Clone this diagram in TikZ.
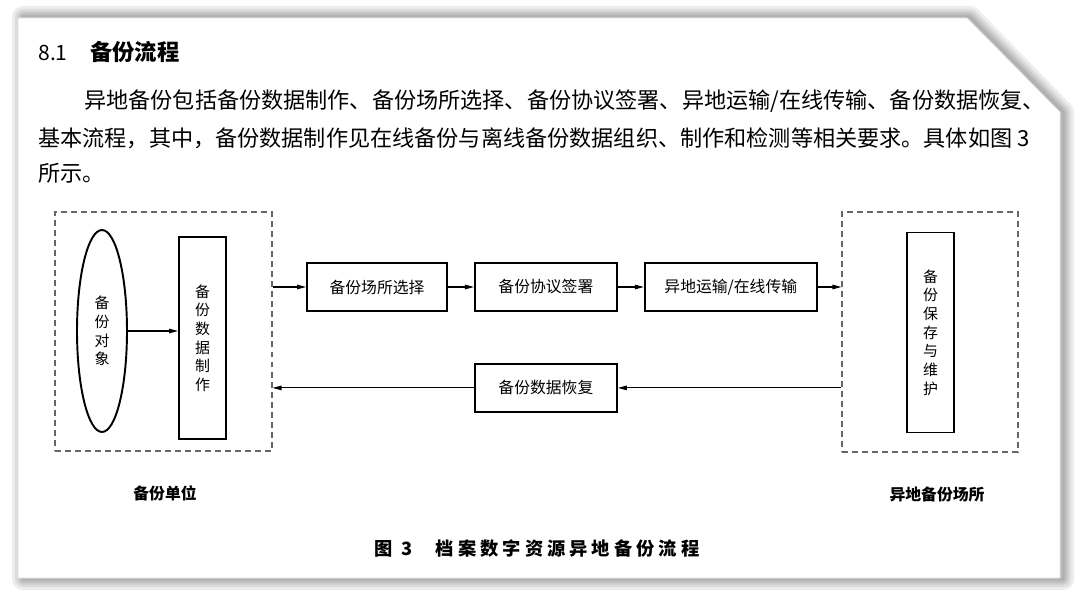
\documentclass[tikz,border=0pt]{standalone}
\usepackage{fontspec}
\setmainfont{Noto Sans CJK SC}
\newfontfamily\capfont[LetterSpace=22]{Noto Sans CJK SC}
\usepackage{tikz}
\usetikzlibrary{arrows.meta,positioning,calc,shapes.geometric}

\begin{document}
\begin{tikzpicture}[x=0.02cm, y=-0.02cm, font=\fontsize{9}{11}\selectfont, node distance=0.52cm,
  bx/.style={draw, line width=1.1pt, minimum width=2.8cm, minimum height=0.96cm, inner sep=2pt},
  vbx/.style={bx, minimum width=0.94cm, minimum height=4.04cm, align=center, font=\fontsize{8.5}{10.6}\selectfont},
  grp/.style={draw=black!60, dash pattern=on 3.4pt off 2.3pt, line width=0.6pt, inner sep=0},
  lbl/.style={font=\fontsize{9}{11}\selectfont\bfseries},
  para/.style={anchor=base west, inner sep=0, font=\fontsize{12.6}{15}\selectfont},
  ar/.style={-{Triangle[length=1.8mm, width=0.9mm]}, line width=0.6pt}]
  \useasboundingbox (0,0) rectangle (1080,598);
  % page with its shadow
  \foreach \w in {22,16,11,7,3} \draw[black, opacity=0.07, line width=\w*0.02cm, line join=round]
    (23,17) -- (970,17) -- (1063,112) -- (1063,579) -- (23,579) -- cycle;
  \fill[white] (18,18) -- (967,18) -- (1060,112) -- (1060,578) -- (18,578) -- cycle;
  \draw[black!12, line width=0.3pt] (18,18) -- (967,18) -- (1060,112) -- (1060,578) -- (18,578) -- cycle;
  % text
  \node[anchor=base west, inner sep=0, font=\fontsize{12}{14}\selectfont] (num) at (38,61) {8.1};
  \node[anchor=base west, inner sep=0, font=\fontsize{12.7}{15}\selectfont\bfseries] (head) at (90,61) {备份流程};
  \begin{scope}
    \clip (18,18) -- (967,18) -- (1060,112) -- (1060,578) -- (18,578) -- cycle;
    \node[para] (l1) at (84,109) {异地备份包括备份数据制作、备份场所选择、备份协议签署、异地运输/在线传输、备份数据恢复、};
  \end{scope}
  \node[para] (l2) at (38,147) {基本流程，其中，备份数据制作见在线备份与离线备份数据组织、制作和检测等相关要求。具体如图 3};
  \node[para] (l3) at (38,182) {所示。};
  % diagram
  \node[grp, minimum width=4.34cm, minimum height=4.78cm] (unit) at (163.5,331.5) {};
  \node[draw, ellipse, line width=1.1pt, minimum width=1cm, minimum height=4.04cm, inner sep=0, align=center,
    font=\fontsize{8.5}{10.6}\selectfont] (obj) at (102,331) {备\\份\\对\\象};
  \node[vbx] (make) at (202.5,338) {备\\份\\数\\据\\制\\作};
  \node[bx] (site) at (377,287) {备份场所选择};
  \node[bx, right=of site, minimum width=2.84cm] (sign) {备份协议签署};
  \node[bx, right=of sign, minimum width=3.44cm] (move) {异地运输/在线传输};
  \node[bx, below=1.02cm of sign, minimum width=2.84cm] (rest) {备份数据恢复};
  \node[grp, minimum width=3.52cm, minimum height=4.8cm] (remote) at (930,332) {};
  \node[vbx, minimum height=4cm] (keep) at (930.5,332.5) {备\\份\\保\\存\\与\\维\\护};
  \node[lbl] (unitlbl) at (165,493) {备份单位};
  \node[lbl] (remotelbl) at (937,495) {异地备份场所};
  \node[font=\fontsize{10.4}{12}\capfont\bfseries, inner sep=0] (cap) at (537,549) {图 3\hspace{1.3em}档案数字资源异地备份流程};
  \draw[ar] (obj.east) -- (obj.east -| make.west);
  \draw[ar] (unit.east |- site.west) -- (site.west);
  \draw[ar] (site) -- (sign);
  \draw[ar] (sign) -- (move);
  \draw[ar] (move.east) -- (move.east -| remote.west);
  \draw[ar] (remote.west |- rest.east) -- (rest.east);
  \draw[ar] (rest.west) -- (rest.west -| unit.east);
\end{tikzpicture}
\end{document}
